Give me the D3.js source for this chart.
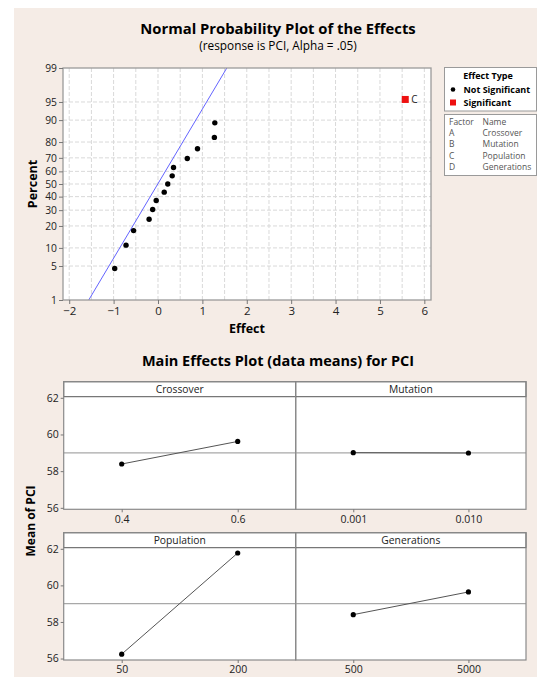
<!DOCTYPE html>
<html><head><meta charset="utf-8">
<script src="https://cdn.jsdelivr.net/npm/d3@7"></script>
<style>
html,body{margin:0;padding:0;background:#fff;}
svg{display:block;}
text{font-family:"Open Sans","DejaVu Sans",sans-serif;}
</style></head>
<body>
<svg id="chart" width="537" height="677"></svg>
<script>
// ---------- data: normal probability plot ----------
const effectValues = [-0.975, -0.72, -0.55, -0.20, -0.12, -0.04, 0.14, 0.22, 0.32, 0.35, 0.66, 0.89, 1.27, 1.28, 5.57];
const effectPercents = [4.5, 11.0, 17.5, 24.0, 30.5, 37.0, 43.5, 50.0, 56.5, 63.0, 69.5, 76.0, 82.5, 89.0, 95.5];
const effectSignificant = [false,false,false,false,false,false,false,false,false,false,false,false,false,false,true];
const effectLabels = ["","","","","","","","","","","","","","","C"];
const fitLineEffects = [-1.56, 1.55];
const fitLinePercents = [1, 99];
const percentTicks = [1, 5, 10, 20, 30, 40, 50, 60, 70, 80, 90, 95, 99];
const effectTicks = [-2, -1, 0, 1, 2, 3, 4, 5, 6];
const effectGrid = [-2, -1.5, -1, -0.5, 0, 0.5, 1, 1.5, 2, 2.5, 3, 3.5, 4, 4.5, 5, 5.5, 6];
const legendTypes = ["Not Significant", "Significant"];
const factorCodes = ["A", "B", "C", "D"];
const factorNames = ["Crossover", "Mutation", "Population", "Generations"];

// ---------- data: main effects plot ----------
const crossoverLevels = ["0.4", "0.6"];
const crossoverMeans = [58.39, 59.62];
const mutationLevels = ["0.001", "0.010"];
const mutationMeans = [59.01, 58.99];
const populationLevels = ["50", "200"];
const populationMeans = [56.24, 61.77];
const generationsLevels = ["500", "5000"];
const generationsMeans = [58.40, 59.64];
const grandMean = 59.0;
const meanTicks = [56, 58, 60, 62];

const BG = "#f5ece6";
const svg = d3.select("#chart");

svg.append("rect").attr("x", 14).attr("y", 8).attr("width", 523).attr("height", 669).attr("fill", BG);

// inverse normal CDF (Acklam)
function probit(p) {
  const a = [-3.969683028665376e+01, 2.209460984245205e+02, -2.759285104469687e+02, 1.383577518672690e+02, -3.066479806614716e+01, 2.506628277459239e+00];
  const b = [-5.447609879822406e+01, 1.615858368580409e+02, -1.556989798598866e+02, 6.680131188771972e+01, -1.328068155288572e+01];
  const c = [-7.784894002430293e-03, -3.223964580411365e-01, -2.400758277161838e+00, -2.549732539343734e+00, 4.374664141464968e+00, 2.938163982698783e+00];
  const d = [7.784695709041462e-03, 3.224671290700398e-01, 2.445134137142996e+00, 3.754408661907416e+00];
  const pl = 0.02425, ph = 1 - pl;
  let q, r;
  if (p < pl) { q = Math.sqrt(-2 * Math.log(p));
    return (((((c[0]*q+c[1])*q+c[2])*q+c[3])*q+c[4])*q+c[5]) / ((((d[0]*q+d[1])*q+d[2])*q+d[3])*q+1); }
  if (p <= ph) { q = p - 0.5; r = q * q;
    return (((((a[0]*r+a[1])*r+a[2])*r+a[3])*r+a[4])*r+a[5])*q / (((((b[0]*r+b[1])*r+b[2])*r+b[3])*r+b[4])*r+1); }
  q = Math.sqrt(-2 * Math.log(1 - p));
  return -(((((c[0]*q+c[1])*q+c[2])*q+c[3])*q+c[4])*q+c[5]) / ((((d[0]*q+d[1])*q+d[2])*q+d[3])*q+1);
}

// ================= Normal probability plot =================
const P = {l: 63, r: 431, t: 68, b: 300};
const xE = d3.scaleLinear().domain([-2.14, 6.15]).range([P.l, P.r]);
const zS = d3.scaleLinear().domain([probit(0.01), probit(0.99)]).range([P.b, P.t]);
const yP = p => zS(probit(p / 100));

svg.append("text").attr("x", 278).attr("y", 34).attr("text-anchor", "middle")
  .attr("font-size", 14.8).attr("font-weight", "bold").attr("fill", "#000")
  .text("Normal Probability Plot of the Effects");
svg.append("text").attr("x", 278).attr("y", 50).attr("text-anchor", "middle")
  .attr("font-size", 11.8).attr("fill", "#000")
  .text("(response is PCI, Alpha = .05)");

svg.append("rect").attr("x", P.l).attr("y", P.t).attr("width", P.r - P.l).attr("height", P.b - P.t).attr("fill", "#fff");

const gGrid = svg.append("g");
gGrid.selectAll("line.v").data(effectGrid).join("line")
  .attr("x1", d => xE(d)).attr("x2", d => xE(d)).attr("y1", P.t).attr("y2", P.b)
  .attr("stroke", "#d9d9d9").attr("stroke-dasharray", "4,2").attr("stroke-width", 1);
gGrid.selectAll("line.h").data(percentTicks.filter(d => d > 1 && d < 99)).join("line")
  .attr("x1", P.l).attr("x2", P.r).attr("y1", d => yP(d)).attr("y2", d => yP(d))
  .attr("stroke", "#d9d9d9").attr("stroke-dasharray", "4,2").attr("stroke-width", 1);

svg.append("defs").append("clipPath").attr("id", "clipP").append("rect")
  .attr("x", P.l).attr("y", P.t).attr("width", P.r - P.l).attr("height", P.b - P.t);

const fitData = fitLineEffects.map((e, i) => [e, fitLinePercents[i]]);
svg.append("path").attr("clip-path", "url(#clipP)")
  .attr("d", d3.line().x(d => xE(d[0])).y(d => yP(d[1]))(fitData))
  .attr("stroke", "#6464ff").attr("stroke-width", 1).attr("fill", "none");

svg.append("rect").attr("x", P.l).attr("y", P.t).attr("width", P.r - P.l).attr("height", P.b - P.t)
  .attr("fill", "none").attr("stroke", "#9a9a9a").attr("stroke-width", 1.3);

const axL = svg.append("g").attr("transform", `translate(${P.l},0)`)
  .call(d3.axisLeft(zS).tickValues(percentTicks.map(p => probit(p / 100))).tickFormat((d, i) => percentTicks[i]).tickSize(4).tickPadding(2));
const axB = svg.append("g").attr("transform", `translate(0,${P.b})`)
  .call(d3.axisBottom(xE).tickValues(effectTicks).tickFormat(d3.format("d")).tickSize(4).tickPadding(3));
[axL, axB].forEach(g => {
  g.select(".domain").remove();
  g.selectAll(".tick line").attr("stroke", "#777");
  g.selectAll(".tick text").attr("font-size", 10.3).attr("fill", "#222").attr("font-family", "Open Sans, sans-serif");
});
axB.selectAll(".tick text").attr("font-size", 11.5);

svg.append("text").attr("transform", `translate(37,${(P.t + P.b) / 2}) rotate(-90)`).attr("text-anchor", "middle")
  .attr("font-size", 12.5).attr("font-weight", "bold").text("Percent");
svg.append("text").attr("x", (P.l + P.r) / 2).attr("y", 333).attr("text-anchor", "middle")
  .attr("font-size", 12.5).attr("font-weight", "bold").text("Effect");

const pts = effectValues.map((e, i) => ({e, p: effectPercents[i], s: effectSignificant[i], lab: effectLabels[i]}));
svg.selectAll("circle.pt").data(pts.filter(d => !d.s)).join("circle")
  .attr("cx", d => xE(d.e)).attr("cy", d => yP(d.p)).attr("r", 2.7).attr("fill", "#000");
const sig = pts.filter(d => d.s);
svg.selectAll("rect.sig").data(sig).join("rect")
  .attr("x", d => xE(d.e) - 3.5).attr("y", d => yP(d.p) - 3.5).attr("width", 7).attr("height", 7).attr("fill", "#ee1111");
svg.selectAll("text.sig").data(sig).join("text")
  .attr("x", d => xE(d.e) + 6).attr("y", d => yP(d.p) + 3.5).attr("font-size", 10).attr("fill", "#222").text(d => d.lab);

// legend 1
const L1 = {x: 444.5, y: 67.5, w: 92, h: 43.5};
svg.append("rect").attr("x", L1.x).attr("y", L1.y).attr("width", L1.w).attr("height", L1.h)
  .attr("fill", "#fff").attr("stroke", "#9a9a9a").attr("stroke-width", 1);
svg.append("text").attr("x", 488).attr("y", L1.y + 11.5).attr("text-anchor", "middle")
  .attr("font-size", 9).attr("font-weight", "bold").text("Effect Type");
legendTypes.forEach((t, i) => {
  const cy = L1.y + 22 + i * 13;
  if (i === 0) svg.append("circle").attr("cx", 453).attr("cy", cy).attr("r", 2.3).attr("fill", "#000");
  else svg.append("rect").attr("x", 450).attr("y", cy - 3).attr("width", 6).attr("height", 6).attr("fill", "#ee1111");
  svg.append("text").attr("x", 463.5).attr("y", cy + 3).attr("font-size", 9).attr("font-weight", "bold").text(t);
});

// legend 2
const L2 = {x: 444.5, y: 114.5, w: 92, h: 61};
svg.append("rect").attr("x", L2.x).attr("y", L2.y).attr("width", L2.w).attr("height", L2.h)
  .attr("fill", "#fff").attr("stroke", "#9a9a9a").attr("stroke-width", 1);
svg.append("text").attr("x", 449).attr("y", 124.5).attr("font-size", 8.5).attr("fill", "#555").text("Factor");
svg.append("text").attr("x", 482.5).attr("y", 124.5).attr("font-size", 8.5).attr("fill", "#555").text("Name");
factorCodes.forEach((c, i) => {
  const y = 136 + i * 11.4;
  svg.append("text").attr("x", 449).attr("y", y).attr("font-size", 8.5).attr("fill", "#555").text(c);
  svg.append("text").attr("x", 482.5).attr("y", y).attr("font-size", 8.5).attr("fill", "#555").text(factorNames[i]);
});

// ================= Main effects plot =================
svg.append("text").attr("x", 278).attr("y", 366).attr("text-anchor", "middle")
  .attr("font-size", 14.5).attr("font-weight", "bold").text("Main Effects Plot (data means) for PCI");
svg.append("text").attr("transform", `translate(35,521) rotate(-90)`).attr("text-anchor", "middle")
  .attr("font-size", 12).attr("font-weight", "bold").text("Mean of PCI");

const cols = [[63.7, 295.7], [295.7, 526]];
const rows = [[381.7, 509.3], [532.7, 660]];
const stripH = 15;
const panels = [
  {name: factorNames[0], levels: crossoverLevels, means: crossoverMeans, c: 0, r: 0},
  {name: factorNames[1], levels: mutationLevels, means: mutationMeans, c: 1, r: 0},
  {name: factorNames[2], levels: populationLevels, means: populationMeans, c: 0, r: 1},
  {name: factorNames[3], levels: generationsLevels, means: generationsMeans, c: 1, r: 1}
];

rows.forEach(rw => {
  const [x0, x1] = [cols[0][0], cols[1][1]];
  svg.append("rect").attr("x", x0).attr("y", rw[0]).attr("width", x1 - x0).attr("height", rw[1] - rw[0]).attr("fill", "#fff");
});

panels.forEach(pn => {
  const [x0, x1] = cols[pn.c];
  const [y0, y1] = rows[pn.r];
  const yM = d3.scaleLinear().domain([55.92, 62.06]).range([y1, y0 + stripH]);
  const xM = d3.scalePoint().domain(pn.levels).range([x0, x1]).padding(0.5);
  const g = svg.append("g");
  g.append("line").attr("x1", x0).attr("x2", x1).attr("y1", yM(grandMean)).attr("y2", yM(grandMean))
    .attr("stroke", "#a8a8a8").attr("stroke-width", 1.2);
  g.append("rect").attr("x", x0).attr("y", y0).attr("width", x1 - x0).attr("height", stripH)
    .attr("fill", "#fff").attr("stroke", "#555").attr("stroke-width", 1);
  g.append("text").attr("x", (x0 + x1) / 2).attr("y", y0 + 11.3).attr("text-anchor", "middle")
    .attr("font-size", 10.3).attr("fill", "#222").text(pn.name);
  const dd = pn.levels.map((l, i) => [l, pn.means[i]]);
  g.append("path").attr("d", d3.line().x(d => xM(d[0])).y(d => yM(d[1]))(dd))
    .attr("stroke", "#555").attr("stroke-width", 1).attr("fill", "none");
  g.selectAll("circle").data(dd).join("circle")
    .attr("cx", d => xM(d[0])).attr("cy", d => yM(d[1])).attr("r", 2.6).attr("fill", "#000");
  g.append("rect").attr("x", x0).attr("y", y0).attr("width", x1 - x0).attr("height", y1 - y0)
    .attr("fill", "none").attr("stroke", "#8a8a8a").attr("stroke-width", 1.2);
  const ax = g.append("g").attr("transform", `translate(0,${y1})`)
    .call(d3.axisBottom(xM).tickSize(3).tickPadding(3));
  ax.select(".domain").remove();
  ax.selectAll(".tick line").attr("stroke", "#777");
  ax.selectAll(".tick text").attr("font-size", 10.5).attr("fill", "#222").attr("font-family", "Open Sans, sans-serif");
  if (pn.c === 0) {
    const ay = g.append("g").attr("transform", `translate(${x0},0)`)
      .call(d3.axisLeft(yM).tickValues(meanTicks).tickFormat(d3.format("d")).tickSize(3).tickPadding(2));
    ay.select(".domain").remove();
    ay.selectAll(".tick line").attr("stroke", "#777");
    ay.selectAll(".tick text").attr("font-size", 10.5).attr("fill", "#222").attr("font-family", "Open Sans, sans-serif");
  }
});
</script>
</body></html>
